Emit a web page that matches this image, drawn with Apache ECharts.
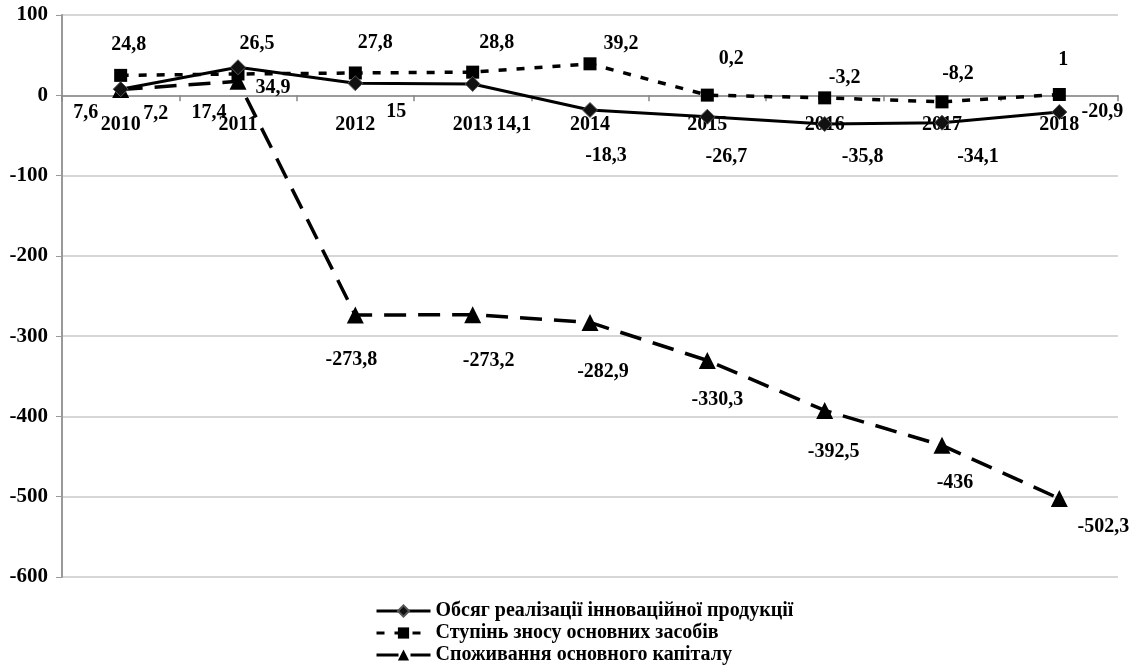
<!DOCTYPE html>
<html>
<head>
<meta charset="utf-8">
<script src="https://cdn.jsdelivr.net/npm/echarts@6/dist/echarts.min.js"></script>
<style>
html,body{margin:0;padding:0;background:#fff;}
#chart{width:1131px;height:672px;}
</style>
</head>
<body>
<div id="chart"></div>
<script>
// ---- data ----
const categories = ['2010','2011','2012','2013','2014','2015','2016','2017','2018'];
const seriesNames = [
  'Обсяг реалізації інноваційної продукції',
  'Ступінь зносу основних засобів',
  'Споживання основного капіталу'
];
const innovationSales = [7.6, 34.9, 15, 14.1, -18.3, -26.7, -35.8, -34.1, -20.9];
const depreciationDegree = [24.8, 26.5, 27.8, 28.8, 39.2, 0.2, -3.2, -8.2, 1];
const capitalConsumption = [7.2, 17.4, -273.8, -273.2, -282.9, -330.3, -392.5, -436, -502.3];
const yTicks = {min: -600, max: 100, interval: 100};

// ---- label placement (pixel offsets from each marker) ----
const offs1 = [[-35,24],[35,21],[41,29],[41,41],[16,46],[19,40],[38,33],[36,34],[43,0]];
const offs2 = [[8,-31],[19,-30],[20,-30],[24,-29],[31,-20],[24,-36],[20,-20],[16,-28],[4,-35]];
const offs3 = [[35,24],[-29,32],[-4,45],[16,46],[13,49],[10,39],[9,41],[13,37],[44,28]];

const FONT = '"Liberation Serif","Times New Roman",serif';
const fmt = p => String(p.value).replace('.', ',');

function build(vals, offs) {
  return vals.map((v, i) => ({
    value: v,
    label: {offset: offs[i]}
  }));
}
const labelBase = {
  show: true, position: 'inside', formatter: fmt,
  color: '#000', fontFamily: FONT, fontWeight: 'bold', fontSize: 20
};

const H = 672, gridTop = 15, gridBottom = 95;
const plotH = H - gridTop - gridBottom;
const zeroFromBottom = (0 - yTicks.min) / (yTicks.max - yTicks.min) * plotH;

const chart = echarts.init(document.getElementById('chart'), null, {renderer: 'canvas'});
chart.setOption({
  backgroundColor: '#fff',
  animation: false,
  grid: {left: 62, right: 13, top: gridTop, bottom: gridBottom, containLabel: false},
  legend: {
    orient: 'vertical', left: 370, top: 596,
    itemWidth: 54, itemHeight: 14, itemGap: 2,
    lineStyle: {width: 3},
    textStyle: {color: '#000', fontFamily: FONT, fontWeight: 'bold', fontSize: 20},
    data: seriesNames
  },
  xAxis: {
    type: 'category', data: categories, boundaryGap: true,
    position: 'bottom', offset: -zeroFromBottom,
    axisLine: {onZero: false, lineStyle: {color: '#888', width: 1.5}},
    axisTick: {show: true, length: 6, lineStyle: {color: '#888', width: 1.5}},
    axisLabel: {color: '#000', fontFamily: FONT, fontWeight: 'bold', fontSize: 20, margin: 20},
    splitLine: {show: false}
  },
  yAxis: {
    type: 'value', min: yTicks.min, max: yTicks.max, interval: yTicks.interval,
    axisLine: {show: true, lineStyle: {color: '#999', width: 2}},
    axisTick: {show: true, length: 6, lineStyle: {color: '#999'}},
    axisLabel: {color: '#000', fontFamily: FONT, fontWeight: 'bold', fontSize: 21, margin: 14},
    splitLine: {show: true, lineStyle: {color: '#c8c8c8', width: 1.5}}
  },
  series: [
    {
      name: seriesNames[0], type: 'line', data: build(innovationSales, offs1),
      symbol: 'diamond', symbolSize: 15, z: 5,
      itemStyle: {color: '#111', borderColor: '#555', borderWidth: 1},
      lineStyle: {color: '#000', width: 3, type: 'solid'},
      label: labelBase
    },
    {
      name: seriesNames[1], type: 'line', data: build(depreciationDegree, offs2),
      symbol: 'rect', symbolSize: 13, z: 4,
      itemStyle: {color: '#000'},
      lineStyle: {color: '#000', width: 3.5, type: [8, 10]},
      label: labelBase
    },
    {
      name: seriesNames[2], type: 'line', data: build(capitalConsumption, offs3),
      symbol: 'triangle', symbolSize: 17, z: 3,
      itemStyle: {color: '#000'},
      lineStyle: {color: '#000', width: 3.5, type: [22, 12]},
      label: labelBase
    }
  ]
});
</script>
</body>
</html>
